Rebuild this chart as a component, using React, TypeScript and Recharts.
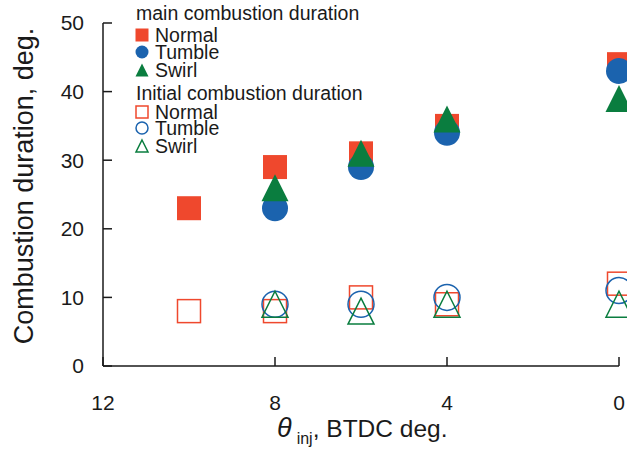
import { Label, Legend, Scatter, ScatterChart, XAxis, YAxis } from "recharts";

// injection timing (BTDC deg.) and combustion duration (deg.)
const mainNormalAngle = [10, 8, 6, 4, 0];
const mainNormalDuration = [23, 29, 31, 35, 44];
const mainTumbleAngle = [8, 6, 4, 0];
const mainTumbleDuration = [23, 29, 34, 43];
const mainSwirlAngle = [8, 6, 4, 0];
const mainSwirlDuration = [26, 31, 36, 39];

const initialNormalAngle = [10, 8, 6, 4, 0];
const initialNormalDuration = [8, 8, 10, 9, 12];
const initialTumbleAngle = [8, 6, 4, 0];
const initialTumbleDuration = [9, 9, 10, 11];
const initialSwirlAngle = [8, 6, 4, 0];
const initialSwirlDuration = [9, 8, 9, 9];

const xTicks = [12, 8, 4, 0];
const yTicks = [0, 10, 20, 30, 40, 50];

const RED = "#ef482d";
const BLUE = "#1b63ae";
const GREEN = "#0a7d3f";
const FONT = "'Liberation Sans', Arial, sans-serif";

const toPoints = (xs: number[], ys: number[]) => xs.map((x, i) => ({ x, y: ys[i] }));

type Kind = "square" | "circle" | "triangle";

function drawMarker(kind: Kind, filled: boolean, color: string, size: number, cx: number, cy: number) {
  const h = size / 2;
  const paint = filled
    ? { fill: color, stroke: "none" }
    : { fill: "none", stroke: color, strokeWidth: 1.5 };
  if (kind === "square") return <rect x={cx - h} y={cy - h} width={size} height={size} {...paint} />;
  if (kind === "circle") return <circle cx={cx} cy={cy} r={h} {...paint} />;
  return (
    <polygon
      points={`${cx},${cy - h} ${cx + h},${cy + h} ${cx - h},${cy + h}`}
      {...paint}
    />
  );
}

const shape = (kind: Kind, filled: boolean, color: string, size: number) => (props: any) =>
  drawMarker(kind, filled, color, size, props.cx, props.cy);

const legendRows = [
  { kind: "square" as Kind, filled: true, color: RED, label: "Normal", y: 35 },
  { kind: "circle" as Kind, filled: true, color: BLUE, label: "Tumble", y: 52 },
  { kind: "triangle" as Kind, filled: true, color: GREEN, label: "Swirl", y: 70 },
  { kind: "square" as Kind, filled: false, color: RED, label: "Normal", y: 112 },
  { kind: "circle" as Kind, filled: false, color: BLUE, label: "Tumble", y: 128 },
  { kind: "triangle" as Kind, filled: false, color: GREEN, label: "Swirl", y: 146 },
];

const renderLegend = () => (
  <svg width={400} height={160} style={{ fontFamily: FONT, fontSize: 19.5 }}>
    <text x={136} y={20} fill="#1a1a1a">main combustion duration</text>
    <text x={136} y={100} fill="#1a1a1a">Initial combustion duration</text>
    {legendRows.map((row, i) => (
      <g key={i}>
        {drawMarker(row.kind, row.filled, row.color, row.filled ? 13 : 12, 142, row.y)}
        <text x={155} y={row.y + 7} fill="#1a1a1a">{row.label}</text>
      </g>
    ))}
  </svg>
);

const YTitle = () => (
  <text
    x={33}
    y={186}
    transform="rotate(-90, 33, 186)"
    textAnchor="middle"
    fontFamily={FONT}
    fontSize={27}
    fill="#1a1a1a"
  >
    Combustion duration, deg.
  </text>
);

const XTitle = () => (
  <text x={277} y={437} fontFamily={FONT} fontSize={24.5} fill="#1a1a1a">
    <tspan fontStyle="italic" fontSize={27}>θ</tspan>
    <tspan fontSize={16} dx={5} dy={7}>inj</tspan>
    <tspan dy={-7}>, BTDC deg.</tspan>
  </text>
);

export default function App() {
  const axisStyle = { stroke: "#1a1a1a", strokeWidth: 1.5 };
  const tickStyle = { fill: "#1a1a1a", fontSize: 21, fontFamily: FONT };

  return (
    <div style={{ position: "absolute", left: 0, top: 0, background: "#fff" }}>
      <ScatterChart width={627} height={450} margin={{ top: 23, right: 8, bottom: 0, left: 0 }}>
        <XAxis
          type="number"
          dataKey="x"
          domain={[0, 12]}
          reversed
          ticks={xTicks}
          height={84}
          axisLine={axisStyle}
          tickLine={axisStyle}
          tickSize={-9}
          tickMargin={38}
          tick={tickStyle}
        >
          <Label content={<XTitle />} />
        </XAxis>
        <YAxis
          type="number"
          dataKey="y"
          domain={[0, 50]}
          ticks={yTicks}
          width={103}
          axisLine={axisStyle}
          tickLine={axisStyle}
          tickSize={-9}
          tickMargin={28}
          tick={tickStyle}
        >
          <Label content={<YTitle />} />
        </YAxis>
        <Legend
          content={renderLegend}
          layout="vertical"
          verticalAlign="middle"
          align="center"
          wrapperStyle={{ left: 0, top: 0, width: 400, height: 160 }}
        />
        <Scatter data={toPoints(mainNormalAngle, mainNormalDuration)} shape={shape("square", true, RED, 24)} isAnimationActive={false} />
        <Scatter data={toPoints(mainTumbleAngle, mainTumbleDuration)} shape={shape("circle", true, BLUE, 26)} isAnimationActive={false} />
        <Scatter data={toPoints(mainSwirlAngle, mainSwirlDuration)} shape={shape("triangle", true, GREEN, 27)} isAnimationActive={false} />
        <Scatter data={toPoints(initialNormalAngle, initialNormalDuration)} shape={shape("square", false, RED, 23)} isAnimationActive={false} />
        <Scatter data={toPoints(initialTumbleAngle, initialTumbleDuration)} shape={shape("circle", false, BLUE, 26)} isAnimationActive={false} />
        <Scatter data={toPoints(initialSwirlAngle, initialSwirlDuration)} shape={shape("triangle", false, GREEN, 26)} isAnimationActive={false} />
      </ScatterChart>
    </div>
  );
}
